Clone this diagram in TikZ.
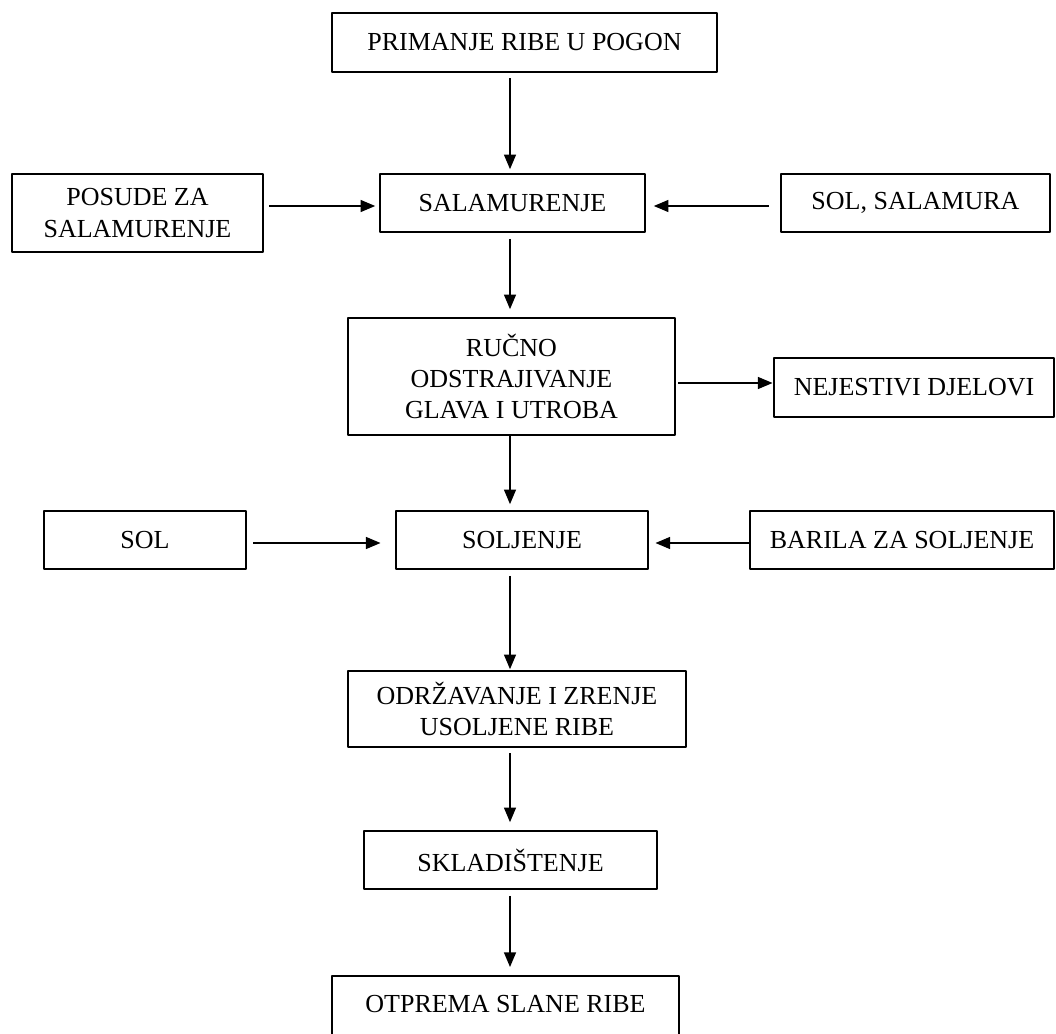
\documentclass[tikz,border=0pt]{standalone}
\usepackage{fontspec}
\setmainfont{Liberation Serif}
\usetikzlibrary{arrows.meta}

\begin{document}
\begin{tikzpicture}[x=0.75pt, y=-0.75pt, line join=round,
	box/.style={draw, line width=1.2pt, align=center, inner sep=2pt, font=\fontsize{19.5}{23.5}\selectfont},
	flow/.style={line width=1.1pt, -{Triangle[length=11pt, width=9pt]}, shorten <=4pt, shorten >=3pt}]

\useasboundingbox (0,0) rectangle (1056,1034);
\clip (0,0) rectangle (1056,1034);

\coordinate (axis) at (510, 0);
\coordinate (row1) at (0, 206);
\coordinate (row2) at (0, 383);
\coordinate (row3) at (0, 543);

\node (prim) at (524.5, 42.5) [box, minimum width=288.75pt, minimum height=44.25pt] {PRIMANJE RIBE U POGON};

\node (posude) at (137.5, 213) [box, minimum width=188.25pt, minimum height=58.5pt] {POSUDE ZA\\SALAMURENJE};
\node (salam) at (512.5, 203) [box, minimum width=198.75pt, minimum height=43.5pt] {SALAMURENJE};
\node (solsal) at (915.5, 203) [box, minimum width=201.75pt, minimum height=43.5pt] {SOL, SALAMURA};

\node (rucno) at (511.5, 376.5) [box, minimum width=245.25pt, minimum height=87.75pt] {RUČNO\\ODSTRAJIVANJE\\GLAVA I UTROBA};
\node (nejest) at (914, 387.5) [box, minimum width=210pt, minimum height=44.25pt] {NEJESTIVI DJELOVI};

\node (sol) at (145, 540) [box, minimum width=151.5pt, minimum height=43.5pt] {SOL};
\node (soljenje) at (522, 540) [box, minimum width=189pt, minimum height=43.5pt] {SOLJENJE};
\node (barila) at (902, 540) [box, minimum width=228pt, minimum height=43.5pt] {BARILA ZA SOLJENJE};

\node (odrz) at (517, 709) [box, minimum width=253.5pt, minimum height=57pt] {ODRŽAVANJE I ZRENJE\\USOLJENE RIBE};
\node (sklad) at (510.5, 860) [box, minimum width=219.75pt, minimum height=43.5pt] {SKLADIŠTENJE};
\node (otprema) at (505.5, 975) [box, anchor=north, minimum width=260.25pt, inner ysep=0pt, text height=27.75pt, text depth=45pt] {OTPREMA SLANE RIBE};

% main line
\draw[flow] (prim.south -| axis) -- (salam.north -| axis);
\draw[flow, shorten <=4.5pt, shorten >=6pt] (salam.south -| axis) -- (rucno.north -| axis);
\draw[flow, shorten <=0pt, shorten >=4.5pt] (rucno.south -| axis) -- (soljenje.north -| axis);
\draw[flow, shorten <=4.5pt, shorten >=0.75pt] (soljenje.south -| axis) -- (odrz.north -| axis);
\draw[flow, shorten >=6pt] (odrz.south -| axis) -- (sklad.north -| axis);
\draw[flow, shorten <=4.5pt, shorten >=6pt] (sklad.south -| axis) -- (otprema.north -| axis);

% inputs and outputs
\draw[flow] (posude.east |- row1) -- (salam.west |- row1);
\draw[flow, shorten <=8.5pt, shorten >=6pt] (solsal.west |- row1) -- (salam.east |- row1);
\draw[flow, shorten <=2pt, shorten >=0.5pt] (rucno.east |- row2) -- (nejest.west |- row2);
\draw[flow, shorten <=5pt, shorten >=11pt] (sol.east |- row3) -- (soljenje.west |- row3);
\draw[flow, shorten <=0pt, shorten >=5pt] (barila.west |- row3) -- (soljenje.east |- row3);

\end{tikzpicture}
\end{document}
